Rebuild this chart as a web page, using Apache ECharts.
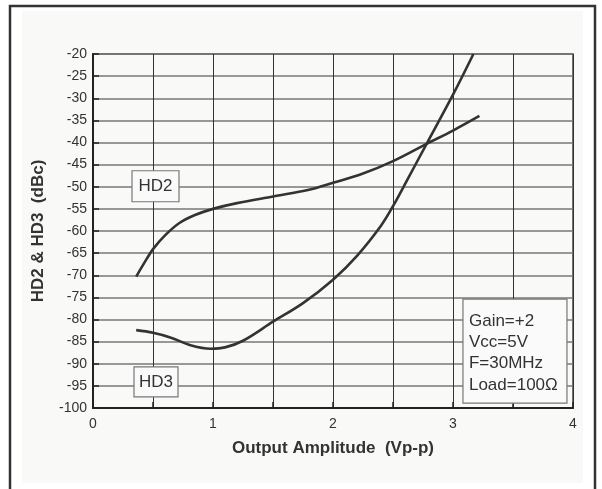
<!DOCTYPE html>
<html>
<head>
<meta charset="utf-8">
<script src="https://cdn.jsdelivr.net/npm/echarts@6/dist/echarts.min.js"></script>
<style>
html,body{margin:0;padding:0;background:#fff;}
#c{width:602px;height:489px;}
</style>
</head>
<body>
<div id="c"></div>
<script>
// Data
var hd2X = [0.36, 0.45, 0.5, 0.6, 0.72, 0.85, 1.0, 1.2, 1.5, 1.8, 2.0, 2.25, 2.5, 2.78, 3.0, 3.22];
var hd2Y = [-70.3, -66.2, -64.1, -61.0, -58.2, -56.4, -55.0, -53.7, -52.2, -50.7, -49.1, -47.0, -44.2, -40.3, -37.3, -34.0];
var hd3X = [0.36, 0.5, 0.65, 0.8, 0.98, 1.1, 1.25, 1.5, 1.75, 2.0, 2.2, 2.4, 2.5, 2.62, 2.78, 3.0, 3.17];
var hd3Y = [-82.4, -83.0, -84.1, -85.7, -86.6, -86.3, -84.8, -80.5, -76.3, -71.0, -65.6, -58.8, -54.4, -48.4, -40.3, -29.2, -20.0];
var xTicks = [0, 1, 2, 3, 4];
var seriesNames = ['HD2', 'HD3'];
var xTitle = 'Output Amplitude  (Vp-p)';
var yTitle = 'HD2 & HD3  (dBc)';
var noteLines = ['Gain=+2', 'Vcc=5V', 'F=30MHz', 'Load=100Ω'];

function pairs(xs, ys){ return xs.map(function(x,i){ return [x, ys[i]]; }); }

var FONT = '"Liberation Sans", Arial, Helvetica, sans-serif';
var chart = echarts.init(document.getElementById('c'), null, {renderer:'canvas'});

var grid = {left:93, top:54, width:480, height:354};

var option = {
  animation:false,
  backgroundColor:'#ffffff',
  textStyle:{fontFamily:FONT},
  grid:{left:grid.left, top:grid.top, width:grid.width, height:grid.height, show:true, borderColor:'#444', borderWidth:1.5, backgroundColor:'transparent', containLabel:false},
  xAxis:{
    type:'value', min:0, max:4, interval:0.5,
    name:xTitle, nameLocation:'middle', nameGap:32,
    nameTextStyle:{fontFamily:FONT, fontWeight:'bold', fontSize:17, color:'#333', verticalAlign:'top'},
    axisLine:{show:true, onZero:false, lineStyle:{color:'#222', width:2}},
    axisTick:{show:true, inside:true, length:6, lineStyle:{color:'#222', width:1.5}},
    axisLabel:{fontFamily:FONT, fontSize:14, color:'#333', margin:9,
      formatter:function(v){ return xTicks.indexOf(v) >= 0 ? String(v) : ''; }},
    splitLine:{show:true, lineStyle:{color:'#333', width:1}}
  },
  yAxis:{
    type:'value', min:-100, max:-20, interval:5,
    name:yTitle, nameLocation:'middle', nameGap:46, nameRotate:90,
    nameTextStyle:{fontFamily:FONT, fontWeight:'bold', fontSize:17, color:'#333'},
    axisLine:{show:true, onZero:false, lineStyle:{color:'#222', width:2}},
    axisTick:{show:true, inside:true, length:6, lineStyle:{color:'#222', width:1.5}},
    axisLabel:{fontFamily:FONT, fontSize:14, color:'#333', margin:6},
    splitLine:{show:true, lineStyle:{color:'#777', width:1.5}}
  },
  series:[
    {name:seriesNames[0], type:'line', data:pairs(hd2X, hd2Y), smooth:0.35, showSymbol:false, lineStyle:{color:'#333', width:2.6}, z:5},
    {name:seriesNames[1], type:'line', data:pairs(hd3X, hd3Y), smooth:0.35, showSymbol:false, lineStyle:{color:'#333', width:2.6}, z:5}
  ],
  graphic:[
    {type:'rect', z:-20, silent:true, shape:{x:10, y:6, width:585, height:500}, style:{fill:'#ffffff', stroke:'#333', lineWidth:2.5}},
    {type:'rect', z:-19, silent:true, shape:{x:22, y:11, width:561, height:472}, style:{fill:'#f9f9f7'}}
  ]
};
chart.setOption(option);

// Annotation boxes anchored to data coordinates
function box(x0, y0, x1, y1){
  return {type:'rect', z:50, silent:true, shape:{x:x0, y:y0, width:x1-x0, height:y1-y0}, style:{fill:'#fafafa', stroke:'#777', lineWidth:1.2}};
}
var p2 = chart.convertToPixel({gridIndex:0}, [0.5, -50]);
var p3 = chart.convertToPixel({gridIndex:0}, [0.5, -95]);
var pn = chart.convertToPixel({gridIndex:0}, [3.083, -75.4]);
var gfx = option.graphic.slice();
gfx.push(box(p2[0]-21, p2[1]-16, p2[0]+26, p2[1]+15));
gfx.push({type:'text', z:51, silent:true, style:{x:p2[0]+2.5, y:p2[1], text:seriesNames[0], font:'17px '+FONT, fill:'#333', textAlign:'center', textVerticalAlign:'middle'}});
gfx.push(box(p3[0]-19, p3[1]-19, p3[0]+25, p3[1]+11));
gfx.push({type:'text', z:51, silent:true, style:{x:p3[0]+3, y:p3[1]-4, text:seriesNames[1], font:'17px '+FONT, fill:'#333', textAlign:'center', textVerticalAlign:'middle'}});
gfx.push(box(pn[0], pn[1], pn[0]+104, pn[1]+104));
noteLines.forEach(function(t, i){
  gfx.push({type:'text', z:51, silent:true, style:{x:pn[0]+6, y:pn[1]+22+i*21.3, text:t, font:'17px '+FONT, fill:'#333', textAlign:'left', textVerticalAlign:'middle'}});
});
chart.setOption({graphic:gfx});
</script>
</body>
</html>
